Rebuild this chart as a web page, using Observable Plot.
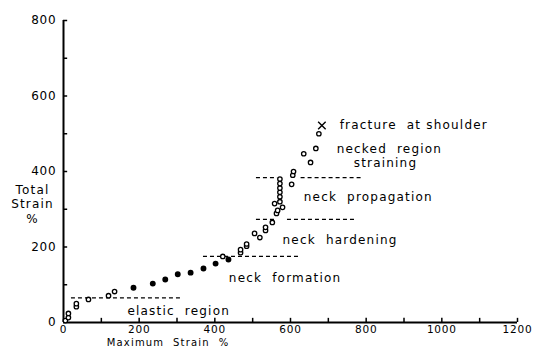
<!DOCTYPE html>
<html><head><meta charset="utf-8">
<script src="https://cdn.jsdelivr.net/npm/d3@7"></script>
<script src="https://cdn.jsdelivr.net/npm/@observablehq/plot@0.6"></script>
<style>
body{margin:0;background:#fff}
#chart svg text{letter-spacing:1.2px; white-space:pre}
#chart svg g[aria-label$="tick label"] text{letter-spacing:0.8px}
#chart svg g[aria-label^="y-axis tick label"]{font-size:12px}
</style>
</head><body><div id="chart"></div>
<script>
// Tick values
const xTicks = [0, 200, 400, 600, 800, 1000, 1200];
const yTicks = [0, 200, 400, 600, 800];
const xMinor = [100, 200, 300, 400, 500, 600, 700, 800, 900, 1000, 1100, 1200];
const yMinor = [100, 200, 300, 400, 500, 600, 700, 800];

// Measured points: open circles (maximum strain %, total strain %)
const openX = [5, 13, 13, 34, 34, 66, 119, 135, 421, 468, 468, 484, 484, 505, 519, 534, 534, 552, 558, 563, 566, 579, 572, 572, 572, 572, 572, 572, 603, 606, 608, 635, 653, 667, 675];
const openY = [5, 13, 24, 42, 50, 61, 71, 82, 175, 185, 193, 202, 208, 236, 225, 244, 252, 265, 315, 289, 297, 305, 320, 333, 345, 356, 368, 380, 366, 390, 400, 447, 424, 461, 500];
// Measured points: solid dots
const solidX = [185, 236, 269, 302, 336, 370, 402, 436];
const solidY = [92, 103, 114, 128, 132, 143, 156, 167];
// Fracture point
const fractureX = [683];
const fractureY = [522];

// Region boundary dashed segments
const dashY  = [65, 175, 273, 273, 384, 384];
const dashX1 = [21, 370, 510, 592, 510, 628];
const dashX2 = [315, 622, 560, 776, 566, 790];

// Annotations
const labelText = ["fracture  at shoulder", "necked  region", "straining", "neck  propagation", "neck  hardening", "neck  formation", "elastic  region"];
const labelX = [730, 722, 767, 635, 579, 437, 169];
const labelY = [522, 459, 421, 331, 217, 117, 29];

const idx = (a) => a.map((_, i) => i);

const plot = Plot.plot({
  width: 537, height: 350,
  marginLeft: 63, marginRight: 20, marginTop: 20, marginBottom: 28,
  style: {fontFamily: "DejaVu Sans", fontSize: "10.5px", color: "#000", background: "#fff"},
  x: {domain: [0, 1200], ticks: xTicks, tickSize: 0, tickPadding: 3, tickFormat: d3.format("d"), label: null},
  y: {domain: [0, 800], ticks: yTicks, tickSize: 0, tickPadding: 7, tickFormat: d3.format("d"), label: null},
  marks: [
    Plot.ruleX(xMinor, {x: d => d, y1: 0, y2: 11, stroke: "#000", strokeWidth: 1.5}),
    Plot.ruleY(yMinor, {y: d => d, x1: 0, x2: 11, stroke: "#000", strokeWidth: 1.5}),
    Plot.ruleY([0], {x1: 0, x2: 1200, stroke: "#000", strokeWidth: 2}),
    Plot.ruleX([0], {y1: 0, y2: 800, stroke: "#000", strokeWidth: 2}),
    Plot.ruleY(idx(dashY), {y: i => dashY[i], x1: i => dashX1[i], x2: i => dashX2[i], stroke: "#000", strokeWidth: 1.2, strokeDasharray: "4,3"}),
    Plot.dot(idx(openX), {x: i => openX[i], y: i => openY[i], r: 2.2, stroke: "#000", strokeWidth: 1.3, fill: "#fff"}),
    Plot.dot(idx(solidX), {x: i => solidX[i], y: i => solidY[i], r: 2.2, stroke: "#000", fill: "#000"}),
    Plot.dot(idx(fractureX), {x: i => fractureX[i], y: i => fractureY[i], symbol: "times", r: 3.5, stroke: "#000", strokeWidth: 1.4}),
    Plot.text(idx(labelText), {x: i => labelX[i], y: i => labelY[i], text: i => labelText[i], textAnchor: "start", fontSize: 12, fill: "#000"}),
    Plot.text(["Maximum  Strain  %"], {x: 114, frameAnchor: "bottom", dy: 23, textAnchor: "start", fontSize: 10, fill: "#000"}),
    Plot.text(["Total\nStrain\n%"], {y: 315, frameAnchor: "left", dx: -31, textAnchor: "middle", lineHeight: 1.2, fontSize: 12, fill: "#000"})
  ]
});
document.getElementById("chart").appendChild(plot);
</script>
</body></html>
